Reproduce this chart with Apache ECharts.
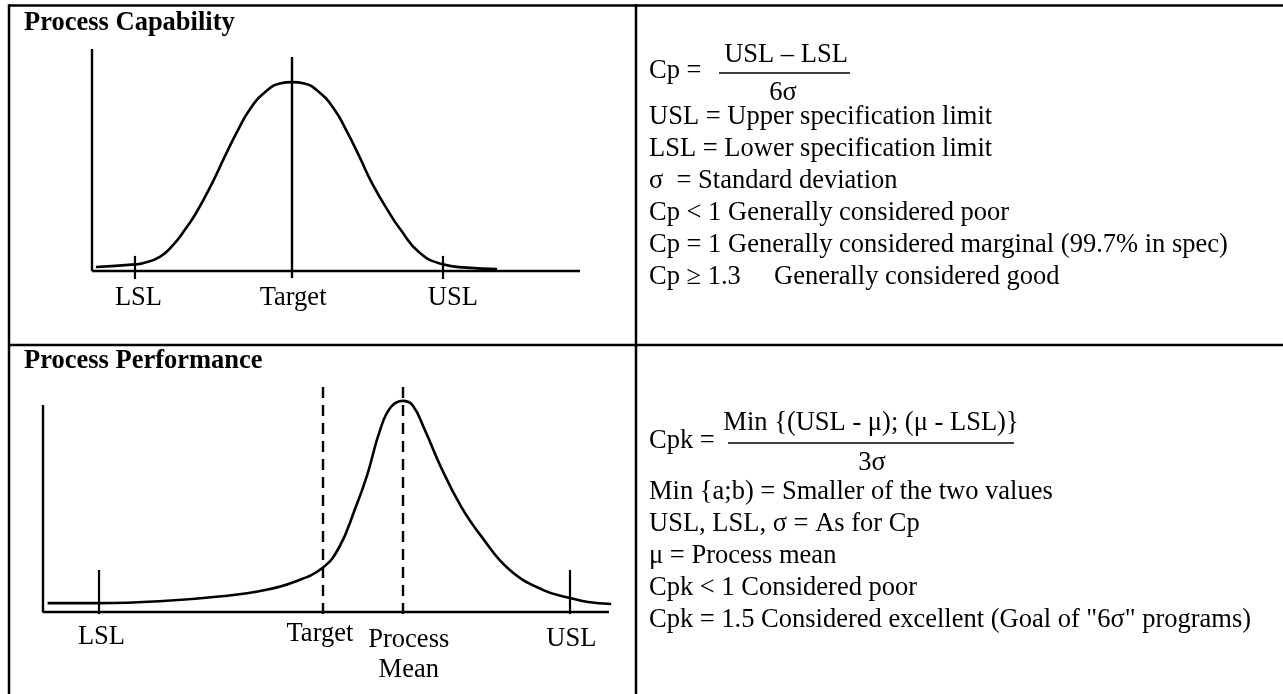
<!DOCTYPE html>
<html>
<head>
<meta charset="utf-8">
<script src="https://cdn.jsdelivr.net/npm/echarts@6/dist/echarts.min.js"></script>
<style>html,body{margin:0;padding:0;background:#fff}#c{width:1283px;height:694px}</style>
</head>
<body>
<div id="c"></div>
<script>
// ---------------- data ----------------
// Process Capability curve (x: 0..100 along the axis, y: relative frequency 0..100)
const capX = [0.8, 8.8, 10.4, 13.9, 16.6, 19, 21.3, 24.6, 27.2, 29.8, 32.4, 35.5, 38.5, 41, 43.5, 46.5, 49.6, 52.2, 54.8, 57.4, 60.7, 63.1, 67.2, 71.9, 76.8, 83];
const capY = [1.8, 3.0, 3.5, 6.4, 11.7, 18.5, 26, 39.5, 51.5, 63, 73, 80.6, 84.5, 85.1, 84.5, 80.6, 73, 63, 51.5, 39.5, 27, 19, 8.1, 3.0, 1.5, 0.9];
const capMarkNames = ['LSL', 'Target', 'USL'];
const capMarkX = [8.8, 41, 71.9];

// Process Performance curve
const perfX = [0.9, 9.9, 21.3, 32.1, 39.3, 44.4, 49.4, 52.4, 55.2, 57.3, 59.6, 61.5, 63.6, 65.3, 67.5, 70.3, 73.9, 77.5, 82.5, 88.4, 93.1, 96.3, 100.4];
const perfY = [4.3, 4.3, 5.3, 7.7, 10.6, 14.5, 21.3, 31.4, 50, 66, 88, 99, 102, 100, 87.9, 70.2, 50.9, 36.4, 20.3, 10.6, 6.8, 4.8, 3.9];
const perfMarkNames = ['LSL', 'Target', 'Process\nMean', 'USL'];
const perfMarkX = [9.9, 49.4, 63.6, 93.1];

// Texts
const titles = ['Process Capability', 'Process Performance'];
const cpFormula = { lhs: 'Cp =', num: 'USL – LSL', den: '6σ' };
const cpkFormula = { lhs: 'Cpk =', num: 'Min {(USL - μ); (μ - LSL)}', den: '3σ' };
const capabilityNotes = [
  'USL = Upper specification limit',
  'LSL = Lower specification limit',
  'σ  = Standard deviation',
  'Cp < 1 Generally considered poor',
  'Cp = 1 Generally considered marginal (99.7% in spec)',
  'Cp ≥ 1.3\tGenerally considered good'
];
const performanceNotes = [
  'Min {a;b) = Smaller of the two values',
  'USL, LSL, σ = As for Cp',
  'μ = Process mean',
  'Cpk < 1 Considered poor',
  'Cpk = 1.5 Considered excellent (Goal of "6σ" programs)'
];

// ---------------- rendering ----------------
const FONT = '"Liberation Serif", "Times New Roman", serif';
const FS = 26.5;
const chart = echarts.init(document.getElementById('c'), null, { renderer: 'canvas', width: 1283, height: 694 });

const solid = (w) => ({ color: '#000', width: w, type: 'solid', opacity: 1 });
const dashed = (w) => ({ color: '#000', width: w, type: [11, 7], opacity: 1 });
const seg = (a, b, ls) => [{ coord: a, lineStyle: ls }, { coord: b, lineStyle: ls }];
const zip = (xs, ys) => xs.map((x, i) => [x, ys[i]]);

const graphics = [];
function gline(x1, y1, x2, y2, w) {
  graphics.push({ type: 'line', silent: true, shape: { x1, y1, x2, y2 }, style: { stroke: '#000', lineWidth: w } });
}
function gtext(s, x, y, extra) {
  const st = Object.assign({
    text: s, fill: '#000', fontFamily: FONT, fontSize: FS, fontWeight: 'normal',
    align: 'left', textAlign: 'left', verticalAlign: 'middle', textVerticalAlign: 'middle'
  }, extra || {});
  graphics.push({ type: 'text', silent: true, x, y, style: st });
}

// table rules
gline(9, 5.5, 1283, 5.5, 2.5);
gline(9, 4.3, 9, 694, 2.5);
gline(636, 4.3, 636, 694, 2.5);
gline(9, 345, 1283, 345, 2.5);

// titles
gtext(titles[0], 24, 23, { fontWeight: 'bold' });
gtext(titles[1], 24, 361.5, { fontWeight: 'bold' });

// Cp formula
gtext(cpFormula.lhs, 649, 71);
gtext(cpFormula.num, 786, 55, { align: 'center', textAlign: 'center' });
gline(719, 73, 850, 73, 1.4);
gtext(cpFormula.den, 783, 93, { align: 'center', textAlign: 'center' });
capabilityNotes.forEach((s, i) => {
  const y = 117 + i * 32;
  const parts = s.split('\t');
  gtext(parts[0], 649, y);
  if (parts[1]) gtext(parts[1], 774, y);
});

// Cpk formula
gtext(cpkFormula.lhs, 649, 441);
gtext(cpkFormula.num, 871, 423, { align: 'center', textAlign: 'center' });
gline(728, 443, 1014, 443, 1.4);
gtext(cpkFormula.den, 872, 463, { align: 'center', textAlign: 'center' });
performanceNotes.forEach((s, i) => {
  gtext(s, 649, 492 + i * 32);
});

const labelBase = {
  show: true, position: 'inside', formatter: '{b}', color: '#000', opacity: 1,
  textBorderWidth: 0, textShadowBlur: 0,
  fontFamily: FONT, fontSize: FS, lineHeight: 30, align: 'center', verticalAlign: 'middle'
};
const capOffsets = [[3.5, 27], [1, 27], [10, 27]];
const perfOffsets = [[2.9, 25], [-2.4, 22], [6, 43], [1.5, 27]];

const markLabels = (names, xs, offsets) => names.map((n, i) => ({
  name: n, value: [xs[i], 0],
  label: Object.assign({}, labelBase, { offset: offsets[i] })
}));

const option = {
  animation: false,
  backgroundColor: '#fff',
  grid: [
    { left: 92, top: 49, width: 488, height: 266.4, containLabel: false, outerBoundsMode: 'none' },
    { left: 42.5, top: 384.3, width: 577.8, height: 300.15, containLabel: false, outerBoundsMode: 'none' }
  ],
  xAxis: [
    { type: 'value', gridIndex: 0, min: 0, max: 100, show: false },
    { type: 'value', gridIndex: 1, min: 0, max: 102, show: false }
  ],
  yAxis: [
    { type: 'value', gridIndex: 0, min: -20, max: 100, show: false },
    { type: 'value', gridIndex: 1, min: -35, max: 110, show: false }
  ],
  series: [
    {
      type: 'line', xAxisIndex: 0, yAxisIndex: 0, data: zip(capX, capY),
      showSymbol: false, smooth: 0.5, clip: false, silent: true,
      lineStyle: { color: '#000', width: 2.6 },
      markLine: {
        silent: true, symbol: ['none', 'none'], label: { show: false }, animation: false,
        lineStyle: solid(2.2),
        data: [
          seg([0, 0], [100, 0], solid(2.4)),
          seg([0, 0], [0, 100], solid(2.4)),
          seg([capMarkX[1], -3.2], [capMarkX[1], 96.4], solid(2.4)),
          seg([capMarkX[0], -3.6], [capMarkX[0], 6.8], solid(2.2)),
          seg([capMarkX[2], -3.6], [capMarkX[2], 6.8], solid(2.2))
        ]
      }
    },
    {
      type: 'scatter', xAxisIndex: 0, yAxisIndex: 0, symbolSize: 0, silent: true,
      itemStyle: { color: '#000' },
      data: markLabels(capMarkNames, capMarkX, capOffsets),
      label: labelBase
    },
    {
      type: 'line', xAxisIndex: 1, yAxisIndex: 1, data: zip(perfX, perfY),
      showSymbol: false, smooth: 0.45, clip: false, silent: true,
      lineStyle: { color: '#000', width: 2.6 },
      markLine: {
        silent: true, symbol: ['none', 'none'], label: { show: false }, animation: false,
        lineStyle: solid(2.2),
        data: [
          seg([0, 0], [100, 0], solid(2.4)),
          seg([0, 0], [0, 100], solid(2.4)),
          seg([perfMarkX[1], 108.7], [perfMarkX[1], -1.4], dashed(2.4)),
          seg([perfMarkX[2], 108.7], [perfMarkX[2], -1.4], dashed(2.4)),
          seg([perfMarkX[0], -1], [perfMarkX[0], 20.3], solid(2.2)),
          seg([perfMarkX[3], -1], [perfMarkX[3], 20.3], solid(2.2))
        ]
      }
    },
    {
      type: 'scatter', xAxisIndex: 1, yAxisIndex: 1, symbolSize: 0, silent: true,
      itemStyle: { color: '#000' },
      data: markLabels(perfMarkNames, perfMarkX, perfOffsets),
      label: labelBase
    }
  ],
  graphic: { elements: graphics }
};
chart.setOption(option);
</script>
</body>
</html>
